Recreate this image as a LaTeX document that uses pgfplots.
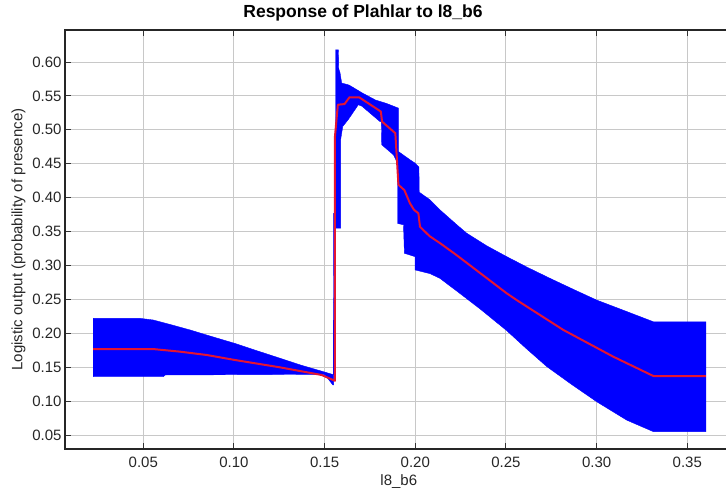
\documentclass[border=0pt]{standalone}
\usepackage{pgfplots}
\pgfplotsset{compat=1.18}
\usepackage{fontspec}
\setmainfont{Liberation Sans}

\definecolor{bandblue}{RGB}{0,0,255}
\definecolor{meanred}{RGB}{228,20,50}
\definecolor{gridgray}{RGB}{200,200,200}

\begin{document}
\begin{tikzpicture}
\begin{axis}[
  scale only axis,
  width=667.6bp, height=419bp,
  xmin=0.00682, xmax=0.375,
  ymin=0.0294, ymax=0.6472,
  xtick={0.05,0.10,0.15,0.20,0.25,0.30,0.35},
  ytick={0.05,0.10,0.15,0.20,0.25,0.30,0.35,0.40,0.45,0.50,0.55,0.60},
  tick align=inside,
  major tick length=6bp,
  tick style={black!80, line width=1bp},
  grid=major,
  major grid style={gridgray, line width=1bp},
  axis line style={black!85, line width=1.2bp},
  tick label style={font=\fontsize{15bp}{18bp}\selectfont, text=black!85},
  xticklabel style={yshift=-5bp},
  /pgf/number format/.cd, fixed, fixed zerofill, precision=2, assume math mode=true,
  /pgfplots/.cd,
  title={\bfseries Response of Plahlar to l8\_b6},
  title style={at={(0.4464,1)}, anchor=base, yshift=7bp,
    font=\fontsize{17.5bp}{20bp}\selectfont},
  xlabel={l8\_b6},
  xlabel style={font=\fontsize{15bp}{18bp}\selectfont, text=black!85},
  ylabel={Logistic output (probability of presence)},
  ylabel style={font=\fontsize{15bp}{18bp}\selectfont, text=black!85},
]

% mean +/- one standard deviation: upper edge left to right, lower edge back
\addplot[draw=bandblue, line width=0.4bp, fill=bandblue] coordinates {
  (0.0224,0.222) (0.0482,0.222) (0.0555,0.2196) (0.0655,0.2125) (0.0758,0.2049)
  (0.088,0.195) (0.1006,0.185) (0.113,0.174) (0.1254,0.1632) (0.137,0.153)
  (0.1493,0.1434) (0.1548,0.139)
  (0.1550,0.377) (0.1560,0.377) (0.1560,0.618) (0.1576,0.618) (0.1578,0.590)
  (0.1585,0.584) (0.1594,0.569) (0.1635,0.566) (0.171,0.554) (0.178,0.544)
  (0.184,0.539) (0.1907,0.532) (0.1907,0.468) (0.197,0.456) (0.1998,0.451)
  (0.2020,0.445) (0.2022,0.408) (0.208,0.397) (0.2136,0.382) (0.2229,0.360)
  (0.2284,0.3475) (0.2394,0.329) (0.2504,0.313) (0.2620,0.297) (0.2743,0.281)
  (0.287,0.265) (0.300,0.249) (0.3157,0.233) (0.3313,0.217) (0.3603,0.217)
  (0.3603,0.055) (0.3313,0.055) (0.3166,0.072) (0.300,0.0992) (0.2860,0.125)
  (0.2725,0.151) (0.2610,0.178) (0.2504,0.204) (0.2357,0.236) (0.2240,0.260)
  (0.2136,0.281) (0.2081,0.288) (0.1999,0.2934)
  (0.1999,0.313) (0.1940,0.318) (0.1935,0.360) (0.1902,0.362) (0.1902,0.451)
  (0.188,0.463) (0.1815,0.478) (0.1813,0.512) (0.1806,0.512) (0.1705,0.535)
  (0.1686,0.537) (0.163,0.515) (0.160,0.505) (0.1588,0.485) (0.1588,0.355)
  (0.1560,0.355) (0.1560,0.245) (0.1550,0.245) (0.1550,0.124) (0.1545,0.124)
  (0.150,0.1395) (0.062,0.1385) (0.061,0.136) (0.0224,0.136)
} -- cycle;

% mean response
\addplot[meanred, line width=2bp, line join=round] coordinates {
  (0.0224,0.1765) (0.0565,0.1765) (0.070,0.173) (0.085,0.168) (0.1006,0.1606)
  (0.1254,0.1498) (0.1484,0.1385) (0.1548,0.131) (0.1557,0.130) (0.1557,0.49)
  (0.1573,0.537) (0.161,0.538) (0.1637,0.548) (0.169,0.548) (0.181,0.527)
  (0.1817,0.512) (0.189,0.495) (0.1907,0.419) (0.194,0.411) (0.197,0.392)
  (0.1993,0.382) (0.2017,0.377) (0.2026,0.357) (0.208,0.343) (0.2136,0.333)
  (0.2229,0.315) (0.2504,0.259) (0.2559,0.249) (0.2816,0.205) (0.3092,0.1655)
  (0.3313,0.137) (0.3603,0.137)
};
\end{axis}
\pgfresetboundingbox
\useasboundingbox ([shift={(-65bp,-50bp)}]current axis.south west)
  rectangle ([shift={(661bp,30bp)}]current axis.north west);
\end{tikzpicture}
\end{document}
